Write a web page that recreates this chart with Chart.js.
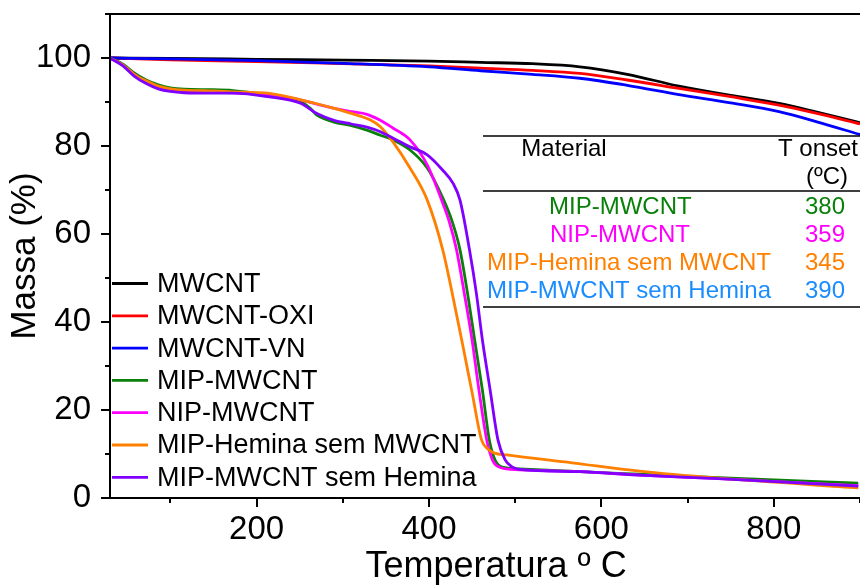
<!DOCTYPE html>
<html><head><meta charset="utf-8">
<script src="https://cdn.jsdelivr.net/npm/chart.js@4"></script>
<style>html,body{margin:0;padding:0;background:#fff;overflow:hidden}</style>
</head><body>
<canvas id="c" width="860" height="585"></canvas>
<script>
// ---- data ----
const seriesNames = ["MWCNT","MWCNT-OXI","MWCNT-VN","MIP-MWCNT","NIP-MWCNT","MIP-Hemina sem MWCNT","MIP-MWCNT sem Hemina"];
const seriesColors = ["#000000","#ff0000","#0000ff","#0a800a","#ff00ff","#ff8000","#8000ff"];

const tempTop = [30,100,200,300,400,460,520,575,630,690,750,806,850,900];
const massMWCNT = [100,99.9,99.7,99.5,99.3,99.0,98.7,98.0,96.3,93.6,91.5,89.7,87.7,85.3];
const massOXI   = [100,99.6,99.2,98.7,98.2,97.7,97.2,96.5,95.0,93.1,91.2,89.3,87.4,85.0];
const massVN    = [100,99.8,99.4,98.8,98.0,97.1,96.3,95.4,93.8,91.7,89.8,87.8,85.5,82.6];

const tempMIP = [30,45,58,72,86,100,116,150,173,213,240,251,262,270,289,310,328,343,358,378,398,416,427,436,445,453,462,470,477,485,505,575,644,736,898];
const massMIP = [100,98.6,96.6,95.0,93.9,93.2,92.9,92.8,92.6,91.6,90.7,90.1,88.6,87.0,85.5,84.6,83.6,82.5,81.4,79.1,75.0,68.2,62.8,56.4,46.2,35.9,24.5,13.2,8.5,7.0,6.6,6.0,5.4,4.6,3.4];

const tempNIP = [30,45,58,72,86,100,116,150,173,213,251,270,289,310,328,343,358,378,398,416,424,432,441,450,458,467,474,482,505,575,644,736,898];
const massNIP = [100,98.4,96.3,94.7,93.5,92.7,92.3,92.2,92.1,91.6,90.5,89.5,88.6,87.8,87.2,85.9,84.1,81.4,75.7,67.0,62.5,56.4,46.5,35.9,24.5,13.2,8.5,7.0,6.4,6.0,5.2,4.4,2.8];

const tempHem = [30,45,58,72,86,100,116,150,173,213,251,270,289,310,320,332,343,358,378,398,416,427,438,450,461,468,476,490,566,644,736,898];
const massHem = [100,98.4,96.3,94.8,93.6,93.0,92.7,92.5,92.3,92.0,90.5,89.6,88.6,87.4,86.8,85.9,84.5,81.0,75.0,67.7,56.4,46.5,35.9,24.0,13.2,11.2,10.2,9.8,8.0,6.1,4.5,2.3];

const tempSemHem = [30,45,58,72,86,100,116,150,173,213,251,270,289,310,328,343,358,378,398,416,428,436,447,455,462,471,480,488,497,505,575,644,736,898];
const massSemHem = [100,98.2,95.9,94.2,93.0,92.4,92.1,92.0,92.0,91.2,89.7,87.4,85.9,85.0,84.3,83.3,81.8,79.8,78.0,74.5,71.5,67.7,56.4,46.5,35.9,24.5,13.2,8.8,7.0,6.5,6.0,5.2,4.4,2.7];

const seriesTemps = [tempTop,tempTop,tempTop,tempMIP,tempNIP,tempHem,tempSemHem];
const seriesMass  = [massMWCNT,massOXI,massVN,massMIP,massNIP,massHem,massSemHem];

const xTickValues = [100,200,300,400,500,600,700,800,900];
const xLabelValues = [200,400,600,800];
const yTickValues = [0,10,20,30,40,50,60,70,80,90,100,110];
const yLabelValues = [0,20,40,60,80,100];

const xTitle = "Temperatura º C";
const yTitle = "Massa (%)";

const tableHeader = ["Material","T onset","(ºC)"];
const tableMaterials = ["MIP-MWCNT","NIP-MWCNT","MIP-Hemina sem MWCNT","MIP-MWCNT sem Hemina"];
const tableOnset = ["380","359","345","390"];
const tableColors = ["#0a800a","#ff00ff","#ff8000","#1a8cff"];

const FONT = "'Liberation Sans', Arial, sans-serif";

// ---- build datasets ----
const datasets = seriesNames.map((name,i)=>({
  label: name,
  data: seriesTemps[i].map((t,j)=>({x:t,y:seriesMass[i][j]})),
  borderColor: seriesColors[i],
  backgroundColor: seriesColors[i],
  borderWidth: 2.8,
  pointRadius: 0,
  pointHoverRadius: 0,
  pointHitRadius: 0,
  cubicInterpolationMode: 'monotone',
  fill: false,
  order: seriesNames.length - 1 - i
}));

const decorPlugin = {
  id: 'decor',
  afterDraw(chart){
    const ctx = chart.ctx;
    const xs = chart.scales.x, ys = chart.scales.y;
    const L = chart.chartArea.left, R = chart.chartArea.right;
    const T = chart.chartArea.top, B = chart.chartArea.bottom;
    ctx.save();
    ctx.strokeStyle = '#000';
    ctx.lineWidth = 2;
    ctx.beginPath();
    ctx.moveTo(L, T-1); ctx.lineTo(L, B+1);
    ctx.moveTo(L-1, B); ctx.lineTo(R, B);
    ctx.moveTo(L, T); ctx.lineTo(R, T);
    ctx.stroke();
    // tick marks
    ctx.beginPath();
    yTickValues.forEach(v=>{
      const y = Math.round(ys.getPixelForValue(v));
      const len = yLabelValues.includes(v) ? 9 : 5;
      ctx.moveTo(L-len, y); ctx.lineTo(L, y);
    });
    xTickValues.forEach(v=>{
      const x = Math.round(xs.getPixelForValue(v));
      const len = xLabelValues.includes(v) ? 9 : 5;
      ctx.moveTo(x, B); ctx.lineTo(x, B+len);
    });
    ctx.stroke();

    // x axis title
    ctx.fillStyle = '#000';
    ctx.font = "36px " + FONT;
    ctx.textAlign = 'center';
    ctx.textBaseline = 'alphabetic';
    ctx.fillText(xTitle, 496, 577);

    // legend
    const lgY0 = 283.5, lgGap = 32.3;
    ctx.font = "27px " + FONT;
    ctx.textBaseline = 'middle';
    ctx.textAlign = 'left';
    chart.data.datasets.forEach((ds,i)=>{
      const y = lgY0 + i*lgGap;
      ctx.strokeStyle = ds.borderColor;
      ctx.lineWidth = 2.8;
      ctx.beginPath(); ctx.moveTo(112,y); ctx.lineTo(148,y); ctx.stroke();
      ctx.fillStyle = '#000';
      ctx.fillText(ds.label, 157, y+1);
    });

    // table
    ctx.strokeStyle = '#000';
    ctx.lineWidth = 1.6;
    ctx.beginPath();
    [136,191,307].forEach(y=>{ctx.moveTo(483,y);ctx.lineTo(860,y);});
    ctx.stroke();
    ctx.font = "24px " + FONT;
    ctx.fillStyle = '#000';
    ctx.textAlign = 'center';
    ctx.fillText(tableHeader[0], 564, 149);
    ctx.textAlign = 'right';
    ctx.fillText(tableHeader[1], 858, 149);
    ctx.fillText(tableHeader[2], 848, 177);
    const rowY = [207,235,263,291];
    const rowX = [549,550,487,487];
    tableMaterials.forEach((m,i)=>{
      ctx.fillStyle = tableColors[i];
      ctx.textAlign = 'left';
      ctx.fillText(m, rowX[i], rowY[i]);
      ctx.textAlign = 'right';
      ctx.fillText(tableOnset[i], 845, rowY[i]);
    });
    ctx.restore();
  }
};

new Chart(document.getElementById('c'), {
  type: 'line',
  data: { datasets },
  plugins: [decorPlugin],
  options: {
    responsive: false,
    animation: false,
    devicePixelRatio: 1,
    layout: { autoPadding: false, padding: { top: 14, right: 0, left: 0, bottom: 0 } },
    plugins: { legend: { display: false }, tooltip: { enabled: false } },
    scales: {
      x: {
        type: 'linear', min: 30, max: 900,
        grid: { display: false, drawTicks: false },
        border: { display: false },
        afterBuildTicks: s => { s.ticks = xLabelValues.map(v=>({value:v})); },
        ticks: {
          color: '#000', padding: 12, maxRotation: 0, autoSkip: false,
          font: { family: FONT, size: 33 },
          callback: v => String(v)
        },
        afterFit: s => { s.height = 87; s.paddingLeft = 0; s.paddingRight = 0; }
      },
      y: {
        type: 'linear', min: 0, max: 110,
        grid: { display: false, drawTicks: false },
        border: { display: false },
        afterBuildTicks: s => { s.ticks = yLabelValues.map(v=>({value:v})); },
        ticks: {
          color: '#000', padding: 19, autoSkip: false,
          font: { family: FONT, size: 33 },
          callback: v => String(v)
        },
        title: { display: true, text: yTitle, color: '#000',
                 font: { family: FONT, size: 35 }, padding: { top: 4, bottom: 0 } },
        afterFit: s => { s.width = 110; s.paddingTop = 0; s.paddingBottom = 0; }
      }
    }
  }
});
</script>
</body></html>
